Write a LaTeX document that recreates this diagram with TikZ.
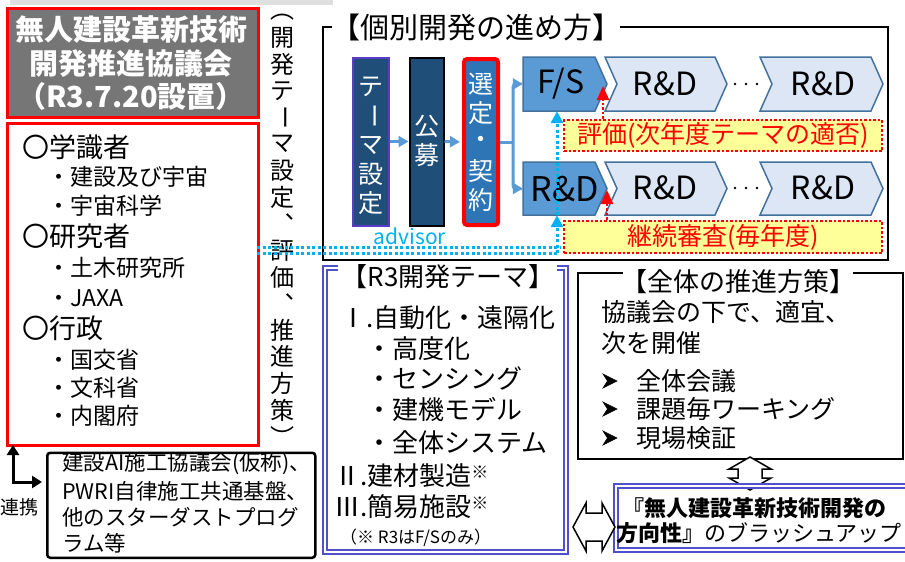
\documentclass[tikz,border=0pt]{standalone}
\usepackage{fontspec}
\setmainfont{Noto Sans CJK JP}
\usepackage{graphicx}
\usetikzlibrary{arrows.meta,calc}
\definecolor{dkblue}{RGB}{31,78,121}
\definecolor{mdblue}{RGB}{46,117,182}
\definecolor{chev}{RGB}{91,155,213}
\definecolor{chevline}{RGB}{65,113,156}
\definecolor{chevlight}{RGB}{220,230,244}
\definecolor{cyanl}{RGB}{0,176,240}
\definecolor{dblue}{RGB}{80,80,205}
\definecolor{boxgray}{RGB}{118,118,118}
\definecolor{yel}{RGB}{255,255,153}
\definecolor{purp}{RGB}{90,60,200}
\newcommand\fs[1]{\fontsize{#1}{#1}\selectfont}
\newcommand\rotch[1]{\rotatebox[origin=c]{-90}{#1}}
\begin{document}
\begin{tikzpicture}[x=1pt,y=-1pt,
  txt/.style={inner sep=0pt,anchor=west},
  vch/.style={inner sep=0pt,font=\fs{25},text=white},
  barrow/.style={draw=chev,line width=3pt,-{Triangle[length=10pt,width=11pt]}},
  reda/.style={draw=red,line width=2.5pt,dash pattern=on 2.5pt off 2pt,-{Triangle[length=14pt,width=12pt]}},
  cyd/.style={draw=cyanl,line width=3pt,dash pattern=on 3pt off 2.5pt},
  cya/.style={cyd,-{Triangle[length=12pt,width=12pt]}},
  dbl/.style={draw=dblue,line width=1.8pt,double=white,double distance=2pt},
  ybox/.style={fill=yel,draw=red,line width=2.5pt,dash pattern=on 2.5pt off 2pt,minimum width=318pt,minimum height=31pt,inner sep=0pt,text=red,font=\fs{25}},
  dchev/.style={fill=chev,draw=chevline,line width=1.5pt},
  lchev/.style={fill=chevlight,draw=chevline,line width=1.5pt},
  hollow/.style={fill=white,draw=black,line width=1.5pt,line join=miter},
  bullet/.style={fill=black,draw=black,line width=0.6pt,line join=miter},
]
\useasboundingbox (0,0) rectangle (905,562);
\fill[white] (0,0) rectangle (905,562);
\fill[gray!25] (10,0) rectangle (333,5);

% ---- council title box
\node[draw=red,line width=3pt,fill=boxgray,minimum width=251pt,minimum height=109pt,inner sep=0pt,anchor=north west] (council) at (5.5,6.5) {};
\node[text=white,font=\bfseries\fontsize{29}{33.5}\selectfont,align=center,inner sep=0pt] (counciltxt) at (131,63.5) {無人建設革新技術\\開発推進協議会\\（R3.7.20設置）};

% ---- members box
\node[draw=red,line width=3pt,fill=white,minimum width=251pt,minimum height=322pt,inner sep=0pt,anchor=north west] (members) at (5.5,121.5) {};
\node[txt,font=\fs{27}] (m1) at (22,147) {〇学識者};
\node[txt,font=\fs{23}] (m2) at (47,177) {・建設及び宇宙};
\node[txt,font=\fs{23}] (m3) at (47,206) {・宇宙科学};
\node[txt,font=\fs{27}] (m4) at (22,236) {〇研究者};
\node[txt,font=\fs{23}] (m5) at (47,268) {・土木研究所};
\node[txt,font=\fs{23}] (m6) at (47,298) {・JAXA};
\node[txt,font=\fs{27}] (m7) at (22,328) {〇行政};
\node[txt,font=\fs{23}] (m8) at (47,360) {・国交省};
\node[txt,font=\fs{23}] (m9) at (47,388) {・文科省};
\node[txt,font=\fs{23}] (m10) at (47,416) {・内閣府};

% ---- vertical column text
\node[inner sep=0pt,font=\fs{24}] (col0) at (282,17) {︵};
\foreach \ch [count=\i from 1] in {開,発,テ,{\rotch{ー}},マ,設,定,︑,評,価,︑,推,進,方,策,︶}
  \node[inner sep=0pt,font=\fs{24}] (col\i) at (282,{11+26.6*\i}) {\ch};

% ---- individual development frame
\node[inner sep=0pt,font=\fs{29}] (kobetsu) at (476,27) {【個別開発の進め方】};
\draw[line width=2.5pt] (332,27) -- (323,27) -- (323,260) -- (888,260) -- (888,27) -- (620,27);

\node[draw=purp,line width=2pt,fill=dkblue,minimum width=36pt,minimum height=168pt,inner sep=0pt] (theme) at (370.5,141.5) {};
\foreach \ch/\y [count=\i] in {テ/87,{\rotch{ー}}/116,マ/145,設/174,定/203}
  \node[vch] (th\i) at (370.5,\y) {\ch};
\node[draw=black,line width=2pt,fill=dkblue,minimum width=34pt,minimum height=168pt,inner sep=0pt] (koubo) at (426.5,141.5) {};
\node[vch] (kb1) at (426.5,126) {公};
\node[vch] (kb2) at (426.5,155) {募};
\node[draw=red,line width=4pt,fill=mdblue,rounded corners=3pt,minimum width=34pt,minimum height=166pt,inner sep=0pt] (sentei) at (481,142) {};
\foreach \ch/\y [count=\i] in {選/84,定/113,・/142,契/171,約/200}
  \node[vch] (se\i) at (481,\y) {\ch};

\draw[barrow] (theme.east) -- (koubo.west);
\draw[barrow,shorten >=2pt] (koubo.east) -- (sentei.west);

% chevrons
\node[minimum width=84pt,minimum height=54pt,inner sep=0pt] (fsb) at (565,84) {};
\node[minimum width=84pt,minimum height=53pt,inner sep=0pt] (rdb) at (565,188.5) {};
\path[lchev] (605,57) -- (715,57) -- (727,84) -- (715,111) -- (605,111) -- (617,84) -- cycle;
\path[lchev] (760,57) -- (871,57) -- (883,84) -- (871,111) -- (760,111) -- (772,84) -- cycle;
\path[lchev] (605,162) -- (715,162) -- (727,188.5) -- (715,215) -- (605,215) -- (617,188.5) -- cycle;
\path[lchev] (760,162) -- (871,162) -- (883,188.5) -- (871,215) -- (760,215) -- (772,188.5) -- cycle;
\path[dchev] (523,57) -- (595,57) -- (607,84) -- (595,111) -- (523,111) -- cycle;
\path[dchev] (523,162) -- (595,162) -- (607,188.5) -- (595,215) -- (523,215) -- cycle;
\node[inner sep=0pt,font=\fs{32}] (fstxt) at (561,84) {F/S};
\node[inner sep=0pt,font=\fs{34}] (rd0) at (565,189) {R\&D};
\node[inner sep=0pt,font=\fs{32}] (rd11) at (665,84) {R\&D};
\node[inner sep=0pt,font=\fs{32}] (rd12) at (823,84) {R\&D};
\node[inner sep=0pt,font=\fs{32}] (rd21) at (665,188) {R\&D};
\node[inner sep=0pt,font=\fs{32}] (rd22) at (823,188) {R\&D};
\foreach \x in {735,746,757} {\fill (\x,84) circle (1.3); \fill (\x,188) circle (1.3);}

% bracket connector
\coordinate (br) at (513,142);
\draw[draw=chev,line width=3pt] (sentei.east) -- (br);
\draw[barrow,rounded corners=3pt] (br) |- (fsb.west);
\draw[barrow,rounded corners=3pt] (br) |- (rdb.west);

% yellow boxes
\node[ybox] (hyouka) at (723,135.5) {評価(次年度テーマの適否)};
\node[ybox,minimum height=32pt] (keizoku) at (723,237) {継続審査(毎年度)};
\coordinate (t1) at (603,86);
\coordinate (t2) at (607,190);
\draw[reda] (t1 |- hyouka.north) -- (t1);
\draw[reda] (t2 |- keizoku.north) -- (t2);

% advisor
\node[inner sep=0pt,font=\fs{21},text=cyanl] (advisor) at (410,236) {advisor};
\coordinate (a1) at (257,247);
\coordinate (a2) at (560,247);
\coordinate (a3) at (257,253);
\coordinate (a4) at (557,253);
\coordinate (ax) at (557,0);
\draw[cyd] (a1) -- (a2);
\draw[cyd] (a3) -- (a4);
\draw[cya] (a4) -- (ax |- rdb.south);
\draw[cya] (ax |- rdb.south) -- (ax |- fsb.south);

% ---- R3 theme box
\node[inner sep=0pt,font=\fs{26}] (r3t) at (448,277) {【R3開発テーマ】};
\draw[dbl] (338,268) -- (325,268) -- (325,552) -- (566,552) -- (566,268) -- (557,268);
\node[txt,font=\fs{26}] (r1) at (340,318) {Ⅰ.自動化・遠隔化};
\node[txt,font=\fs{26}] (r2) at (366,349) {・高度化};
\node[txt,font=\fs{26}] (r3) at (366,378) {・センシング};
\node[txt,font=\fs{26}] (r4) at (366,409) {・建機モデル};
\node[txt,font=\fs{26}] (r5) at (366,443) {・全体システム};
\node[txt,font=\fs{26}] (r6) at (334,476) {Ⅱ.建材製造\raisebox{7pt}{\fs{17}※}};
\node[txt,font=\fs{26}] (r7) at (334,507) {Ⅲ.簡易施設\raisebox{7pt}{\fs{17}※}};
\node[txt,font=\fs{17}] (r8) at (340,538) {（※ R3はF/Sのみ）};

% ---- overall policy box
\node[inner sep=0pt,font=\fs{26}] (zentai) at (738,282) {【全体の推進方策】};
\draw[line width=2.5pt] (623,273) -- (578,273) -- (578,459) -- (903,459) -- (903,273) -- (853,273);
\node[txt,font=\fs{25}] (z1) at (601,312) {協議会の下で、適宜、};
\node[txt,font=\fs{25}] (z2) at (601,343) {次を開催};
\foreach \y [count=\i] in {381,409,438}
  \path[bullet] (617,\y) -- (603,{\y-7}) -- (607.5,\y) -- (603,{\y+7}) -- cycle;
\node[txt,font=\fs{25}] (z3) at (636,381) {全体会議};
\node[txt,font=\fs{25}] (z4) at (636,409) {課題毎ワーキング};
\node[txt,font=\fs{25}] (z5) at (636,438) {現場検証};

% up-down hollow arrow
\path[hollow] (750,457) -- (771,469) -- (762,469) -- (762,478) -- (771,478) -- (750,490) -- (729,478) -- (738,478) -- (738,469) -- (729,469) -- cycle;

% ---- bottom box
\draw[dbl] (616,486) rectangle (914,550);
\node[txt,font=\bfseries\fs{22}] (b1) at (622,508) {『無人建設革新技術開発の};
\node[txt,font=\fs{22}] (b2) at (616,533) {{\bfseries 方向性』}のブラッシュアップ};

% left-right hollow arrow
\path[hollow] (573,527) -- (586,503) -- (586,513) -- (602,513) -- (602,503) -- (615,527) -- (602,551) -- (602,541) -- (586,541) -- (586,551) -- cycle;

% ---- linkage
\node[draw,line width=2.5pt,rounded corners=3pt,minimum width=268pt,minimum height=105pt,inner sep=0pt,anchor=north west] (renkei) at (46,451.5) {};
\node[txt,font=\fs{21.5}] (l1) at (62,464) {建設AI施工協議会(仮称)、};
\node[txt,font=\fs{21.5}] (l2) at (62,491) {PWRI自律施工共通基盤、};
\node[txt,font=\fs{21.5}] (l3) at (62,517) {他のスターダストプログ};
\node[txt,font=\fs{21.5}] (l4) at (62,543) {ラム等};
\node[inner sep=0pt,font=\fs{19}] (lk) at (20,507) {連携};
\coordinate (lkA) at (13,445);
\coordinate (lkB) at (42,482);
\draw[line width=3pt,{Triangle[length=10pt,width=12pt]}-{Triangle[length=10pt,width=12pt]}] (lkA) |- (lkB);
\end{tikzpicture}
\end{document}
